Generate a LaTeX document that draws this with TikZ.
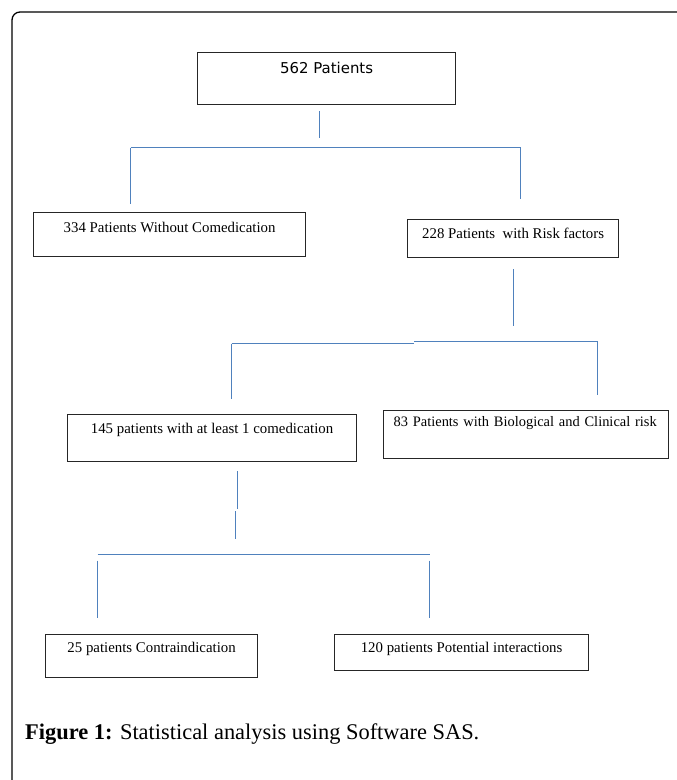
\documentclass[tikz,border=0pt]{standalone}
\usepackage{fontspec}
\setmainfont{Liberation Serif}
\newfontfamily\boxsans{DejaVu Sans}
\definecolor{linkblue}{RGB}{79,129,189}
\tikzset{
  pbox/.style={draw=black!85, line width=1.2pt, anchor=north west,
    inner xsep=0pt, inner ysep=0pt, font=\fontsize{14.9}{17}\selectfont},
  link/.style={draw=linkblue, line width=1.1pt},
  frame/.style={line width=1.3pt, rounded corners=8pt}
}
\begin{document}
\begin{tikzpicture}[x=1bp, y=-1bp]
  \useasboundingbox [fill=white] (0,0) rectangle (677,780);
  % outer frame
  \draw [frame] (12,781) -- (12,12) -- (678,12);
  % boxes
  \node [pbox, minimum width=258bp, text height=21bp, text depth=31bp,
    font=\boxsans\fontsize{15}{17}\selectfont] (all) at (197,52) {562 Patients};
  \node [pbox, minimum width=272bp, text height=20bp, text depth=24bp] (none) at (33,212)
    {334 Patients Without Comedication};
  \node [pbox, minimum width=211bp, text height=19bp, text depth=19bp] (risk) at (407,219)
    {228 Patients~ with Risk factors};
  \node [pbox, minimum width=289bp, text height=19bp, text depth=28bp] (comed) at (67,414)
    {145 patients with at least 1 comedication};
  \node [pbox, text width=265bp, inner xsep=10bp, align=left, text height=16bp,
    text depth=32bp, font=\fontsize{14.5}{17}\selectfont] (bio) at (383,410)
    {\mbox{83 Patients with Biological and Clinical risk}};
  \node [pbox, minimum width=212bp, text height=18bp, text depth=25bp] (contra) at (45,634)
    {25 patients Contraindication};
  \node [pbox, minimum width=254bp, text height=18bp, text depth=18bp] (inter) at (334,634)
    {120 patients Potential interactions};
  % first split
  \coordinate (j1l) at (130.5,147.5);
  \coordinate (j1r) at (520.5,147.5);
  \draw [link] ([xshift=-7.5bp,yshift=-6bp]all.south) -- ([xshift=-7.5bp,yshift=-33bp]all.south);
  \draw [link] (j1l) -- (j1r);
  \draw [link] (j1l) -- ++(0,56);
  \draw [link] (j1r) -- ++(0,51);
  % second split
  \coordinate (j2l) at (231.5,343.5);
  \coordinate (j2r) at (597.5,341.5);
  \draw [link] ([xshift=0.5bp,yshift=-11bp]risk.south) -- ++(0,57);
  \draw [link] (j2l) -- (414,343.5);
  \draw [link] (414,341.5) -- (j2r);
  \draw [link] (j2l) -- ++(0,55);
  \draw [link] (j2r) -- ++(0,53);
  % third split
  \coordinate (j3l) at (97.5,554.5);
  \coordinate (j3r) at (429.5,554.5);
  \draw [link] ([xshift=25bp,yshift=-9bp]comed.south) -- ++(0,38);
  \draw [link] ([xshift=23bp,yshift=-49bp]comed.south) -- ++(0,28);
  \draw [link] (j3l) -- (j3r);
  \draw [link] ([yshift=-6bp]j3l) -- ++(0,57);
  \draw [link] ([yshift=-6bp]j3r) -- ++(0,57);
  % caption
  \node [anchor=base west, inner sep=0pt, font=\fontsize{22.5}{26}\selectfont] (cap) at (25,739)
    {\textbf{Figure 1:} Statistical analysis using Software SAS.};
\end{tikzpicture}
\end{document}
